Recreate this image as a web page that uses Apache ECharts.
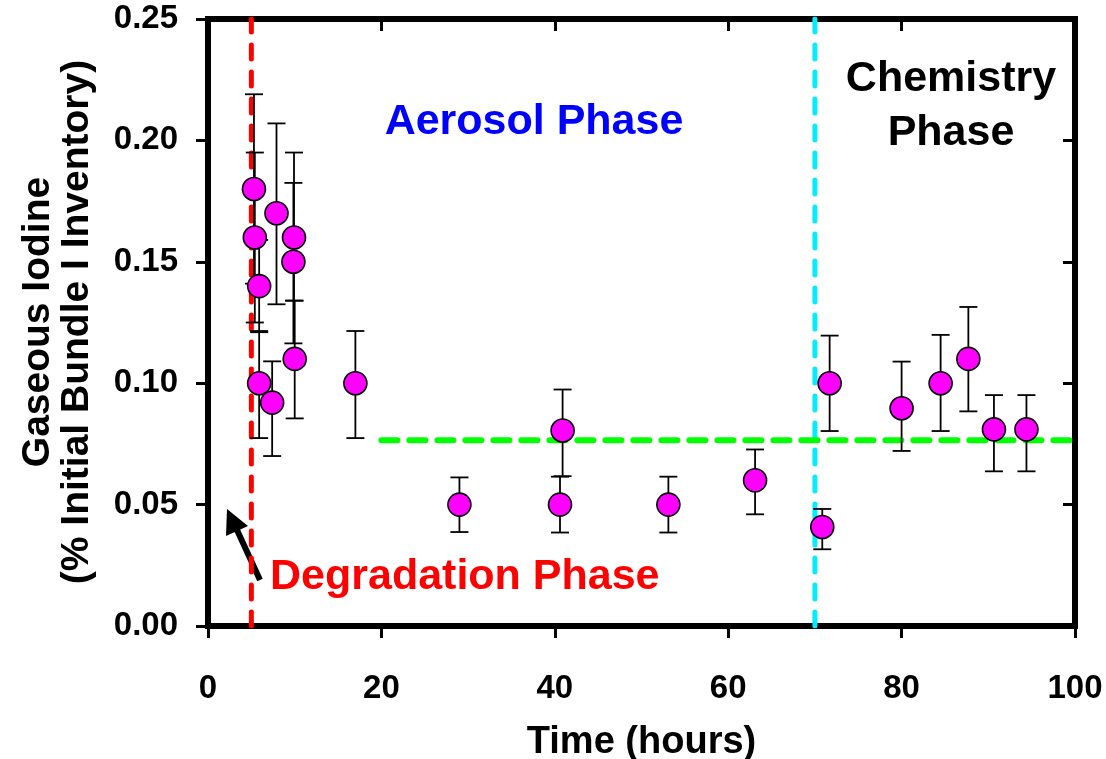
<!DOCTYPE html>
<html>
<head>
<meta charset="utf-8">
<script src="https://cdn.jsdelivr.net/npm/echarts@6/dist/echarts.min.js"></script>
<style>
  html, body { margin: 0; padding: 0; background: #fff; }
  #chart { width: 1106px; height: 759px; }
</style>
</head>
<body>
<div id="chart"></div>
<script>
// data
const timeH   = [5.3, 5.4, 5.9, 5.9, 7.4, 7.9, 9.92, 9.85, 10.0, 17.0, 29.0, 40.9, 40.6, 53.1, 63.1, 70.85, 71.7, 80.0, 84.5, 87.7, 90.65, 94.4]
const iodine  = [0.180, 0.160, 0.140, 0.100, 0.092, 0.170, 0.160, 0.150, 0.110, 0.100, 0.050, 0.0805, 0.050, 0.050, 0.060, 0.0408, 0.100, 0.0897, 0.100, 0.110, 0.081, 0.081]
const errLow  = [0.141, 0.125, 0.121, 0.0774, 0.070, 0.1325, 0.134, 0.1164, 0.0855, 0.0774, 0.0387, 0.0617, 0.0385, 0.0385, 0.046, 0.0316, 0.0803, 0.0721, 0.0803, 0.0884, 0.0637, 0.0637]
const errHigh = [0.219, 0.195, 0.159, 0.1215, 0.109, 0.207, 0.195, 0.1825, 0.134, 0.1215, 0.0612, 0.0974, 0.0615, 0.0615, 0.0727, 0.0482, 0.1196, 0.1089, 0.1199, 0.1314, 0.0951, 0.0951]

const degradationStart = 5
const chemistryStart = 70
const aerosolMean = 0.0765
const aerosolMeanFrom = 20

const xTicks = [0, 20, 40, 60, 80, 100]
const yTicks = [0, 0.05, 0.1, 0.15, 0.2, 0.25]

const font = "'Liberation Sans', Arial, sans-serif"

const chart = echarts.init(document.getElementById('chart'))

const errorData = timeH.map((t, i) => [t, errLow[i], errHigh[i]])
const points = timeH.map((t, i) => [t, iodine[i]])

const boxAxis = {
  axisLine: { show: true, onZero: false, lineStyle: { color: '#000', width: 6, cap: 'square' } },
  splitLine: { show: false }
}
const tickOut = { show: true, inside: false, length: 12, lineStyle: { color: '#000', width: 3 } }
const tickIn = { show: true, inside: true, length: 12, lineStyle: { color: '#000', width: 3 } }

const option = {
  animation: false,
  grid: { left: 208, right: 31, top: 19, bottom: 133, containLabel: false, outerBoundsMode: 'none' },
  xAxis: [
    {
      ...boxAxis,
      type: 'value',
      min: xTicks[0],
      max: xTicks[xTicks.length - 1],
      interval: 20,
      axisTick: tickOut,
      axisLabel: { margin: 46, color: '#000', fontSize: 33, fontWeight: 'bold', fontFamily: font },
      name: 'Time (hours)',
      nameLocation: 'middle',
      nameGap: 98,
      nameTextStyle: { color: '#000', fontSize: 38, fontWeight: 'bold', fontFamily: font }
    },
    {
      ...boxAxis,
      type: 'value',
      position: 'top',
      min: xTicks[0],
      max: xTicks[xTicks.length - 1],
      interval: 20,
      axisTick: tickIn,
      axisLabel: { show: false }
    }
  ],
  yAxis: [
    {
      ...boxAxis,
      type: 'value',
      min: yTicks[0],
      max: yTicks[yTicks.length - 1],
      interval: 0.05,
      axisTick: tickOut,
      axisLabel: {
        margin: 30, color: '#000', fontSize: 33, fontWeight: 'bold', fontFamily: font,
        formatter: v => v.toFixed(2)
      }
    },
    {
      ...boxAxis,
      type: 'value',
      position: 'right',
      min: yTicks[0],
      max: yTicks[yTicks.length - 1],
      interval: 0.05,
      axisTick: tickIn,
      axisLabel: { show: false }
    }
  ],
  series: [
    {
      name: 'degradation',
      type: 'line',
      data: [[degradationStart, yTicks[0]], [degradationStart, yTicks[yTicks.length - 1]]],
      symbol: 'none',
      z: 1,
      lineStyle: { color: '#FF0000', width: 5, type: [14, 13], cap: 'round' }
    },
    {
      name: 'chemistry',
      type: 'line',
      data: [[chemistryStart, yTicks[0]], [chemistryStart, yTicks[yTicks.length - 1]]],
      symbol: 'none',
      z: 1,
      lineStyle: { color: '#00EEFF', width: 5, type: [14, 13], cap: 'round' }
    },
    {
      name: 'mean',
      type: 'line',
      data: [[aerosolMeanFrom, aerosolMean], [xTicks[xTicks.length - 1], aerosolMean]],
      symbol: 'none',
      z: 1,
      lineStyle: { color: '#00FF00', width: 6, type: [16, 12], cap: 'round' }
    },
    {
      name: 'error',
      type: 'custom',
      z: 2,
      encode: { x: 0, y: [1, 2] },
      data: errorData,
      renderItem: (params, api) => {
        const x = api.value(0)
        const top = api.coord([x, api.value(2)])
        const bot = api.coord([x, api.value(1)])
        const hw = 9
        const st = { stroke: '#000', lineWidth: 1.8 }
        return {
          type: 'group',
          children: [
            { type: 'line', shape: { x1: top[0], y1: top[1], x2: bot[0], y2: bot[1] }, style: st },
            { type: 'line', shape: { x1: top[0] - hw, y1: top[1], x2: top[0] + hw, y2: top[1] }, style: st },
            { type: 'line', shape: { x1: bot[0] - hw, y1: bot[1], x2: bot[0] + hw, y2: bot[1] }, style: st }
          ]
        }
      }
    },
    {
      name: 'iodine',
      type: 'scatter',
      z: 3,
      data: points,
      symbol: 'circle',
      symbolSize: 23,
      itemStyle: { color: '#FF00FF', borderColor: '#000', borderWidth: 1.6, opacity: 1 }
    }
  ],
  graphic: [
    {
      type: 'text', x: 58, y: 322, rotation: Math.PI / 2,
      style: {
        text: 'Gaseous Iodine\n(% Initial Bundle I Inventory)',
        fill: '#000', font: 'bold 39px ' + font,
        align: 'center', verticalAlign: 'middle', lineHeight: 39
      }
    },
    {
      type: 'text', x: 534, y: 122,
      style: { text: 'Aerosol Phase', fill: '#0000FF', font: 'bold 43px ' + font, align: 'center', verticalAlign: 'middle' }
    },
    {
      type: 'text', x: 951, y: 106,
      style: { text: 'Chemistry\nPhase', fill: '#000', font: 'bold 43px ' + font, align: 'center', verticalAlign: 'middle', lineHeight: 54 }
    },
    {
      type: 'text', x: 270, y: 577,
      style: { text: 'Degradation Phase', fill: '#FF0000', font: 'bold 43px ' + font, align: 'left', verticalAlign: 'middle' }
    },
    {
      // arrow pointing at the degradation start
      type: 'group',
      children: [
        { type: 'line', shape: { x1: 260, y1: 580, x2: 237, y2: 530 }, style: { stroke: '#000', lineWidth: 6 } },
        { type: 'polygon', shape: { points: [[227, 509], [248, 526], [226, 536]] }, style: { fill: '#000' } }
      ]
    }
  ]
}

chart.setOption(option)
window.addEventListener('resize', () => chart.resize())
</script>
</body>
</html>
